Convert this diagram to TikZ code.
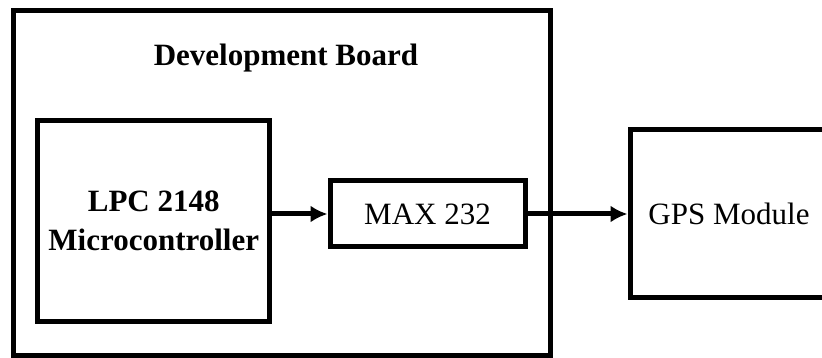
\documentclass[tikz,border=0pt]{standalone}
\usepackage{fontspec}
\setmainfont{Liberation Serif}
\usepackage{tikz}
\usetikzlibrary{arrows.meta,positioning,calc}

\tikzset{
  blk/.style={draw=black,line width=5pt,inner sep=0pt,align=center,
    font=\fontsize{31}{37}\selectfont},
  lnk/.style={line width=5pt,-{Latex[length=17pt,width=17pt]}}
}

\begin{document}
\begin{tikzpicture}[x=1pt,y=-1pt]
    \useasboundingbox (0,0) rectangle (822,358);
    % Placa y bloques internos.
    \node[blk,minimum width=537pt,minimum height=344pt] (board) at (281.5,183) {};
    \node[font=\fontsize{31}{37}\selectfont\bfseries] (title) at (286,58) {Development Board};
    \node[blk,font=\fontsize{31}{37}\selectfont\bfseries,minimum width=232pt,minimum height=200pt] (lpc) at (153.75,221)
      {\raisebox{2pt}{LPC 2148}\\Microcontroller};
    \node[blk,minimum width=195pt,minimum height=66pt] (max) at (427.5,214) {MAX 232};

    % Modulo externo, cortado por el borde derecho.
    \node[blk,minimum width=198pt,minimum height=167pt] (gps) at (729,213.5) {GPS Module};

    % Conexiones.
    \draw[lnk] (lpc.east |- max.west) -- (max.west);
    \draw[lnk] (max.east) -- (max.east -| gps.west);
\end{tikzpicture}
\end{document}
